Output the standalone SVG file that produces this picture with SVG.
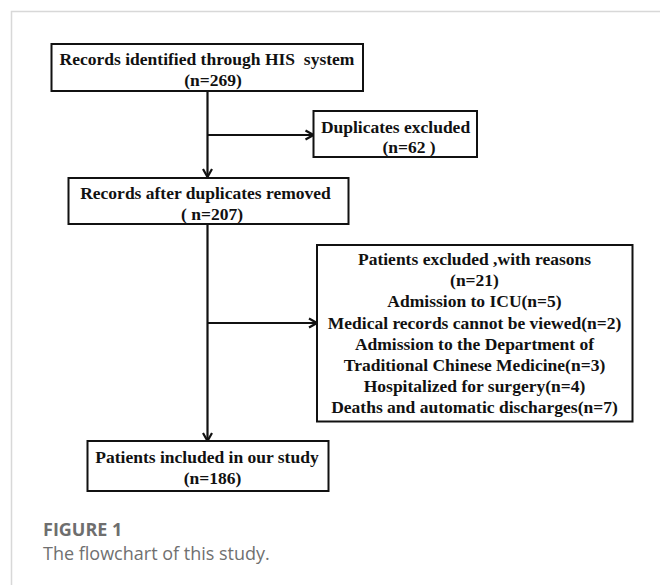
<svg xmlns="http://www.w3.org/2000/svg" width="660" height="585" viewBox="0 0 660 585">
<defs>
<marker id="arr" viewBox="0 0 12 12" refX="11" refY="6" markerWidth="12" markerHeight="12" markerUnits="userSpaceOnUse" orient="auto">
<path d="M3,1.5 L11,6 L3,10.5" fill="none" stroke="#111" stroke-width="2.2"/>
</marker>
</defs>
<style>
.box{fill:#fff;stroke:#111;stroke-width:2}
.t{font-family:"Liberation Serif","Times New Roman",serif;font-weight:bold;font-size:17.5px;fill:#111;text-anchor:middle;white-space:pre}
.c{fill:none;stroke:#111;stroke-width:2.2}
.frame{fill:none;stroke:#d8d8d8;stroke-width:1.5}
.cap1{font-family:"Open Sans","Liberation Sans",sans-serif;font-weight:bold;font-size:18px;fill:#6e6e6e}
.cap2{font-family:"Open Sans","Liberation Sans",sans-serif;font-size:18px;fill:#707070}
</style>
<rect width="660" height="585" fill="#fff"/>
<path class="frame" d="M11.5,585 V11.5 H660"/>
<g id="connectors">
<path class="c" d="M207.5,91 V177" marker-end="url(#arr)"/>
<path class="c" d="M207.5,135 H313.5" marker-end="url(#arr)"/>
<path class="c" d="M207.5,224 V441" marker-end="url(#arr)"/>
<path class="c" d="M207.5,323 H317" marker-end="url(#arr)"/>
</g>
<g id="n1">
<rect class="box" x="51.5" y="44" width="311.5" height="47"/>
<text class="t" x="207" y="65" xml:space="preserve">Records identified through HIS  system</text>
<text class="t" x="213" y="86">(n=269)</text>
</g>
<g id="n2">
<rect class="box" x="313.5" y="111" width="163.5" height="46"/>
<text class="t" x="395.5" y="133">Duplicates excluded</text>
<text class="t" x="409" y="153" xml:space="preserve">(n=62 )</text>
</g>
<g id="n3">
<rect class="box" x="68.5" y="178" width="280" height="46"/>
<text class="t" x="205.5" y="199">Records after duplicates removed</text>
<text class="t" x="212" y="220" xml:space="preserve">( n=207)</text>
</g>
<g id="n4">
<rect class="box" x="317" y="245" width="315.5" height="176.5"/>
<text class="t" x="474.5" y="265">Patients excluded ,with reasons</text>
<text class="t" x="474.5" y="286.2">(n=21)</text>
<text class="t" x="474.5" y="307.4">Admission to ICU(n=5)</text>
<text class="t" x="474.5" y="328.6">Medical records cannot be viewed(n=2)</text>
<text class="t" x="474.5" y="349.8">Admission to the Department of</text>
<text class="t" x="474.5" y="371">Traditional Chinese Medicine(n=3)</text>
<text class="t" x="474.5" y="392.2">Hospitalized for surgery(n=4)</text>
<text class="t" x="474.5" y="413.4">Deaths and automatic discharges(n=7)</text>
</g>
<g id="n5">
<rect class="box" x="87.5" y="441" width="241" height="50"/>
<text class="t" x="207" y="463">Patients included in our study</text>
<text class="t" x="212.5" y="484">(n=186)</text>
</g>
<text class="cap1" x="43" y="536">FIGURE 1</text>
<text class="cap2" x="43" y="560">The flowchart of this study.</text>
</svg>
